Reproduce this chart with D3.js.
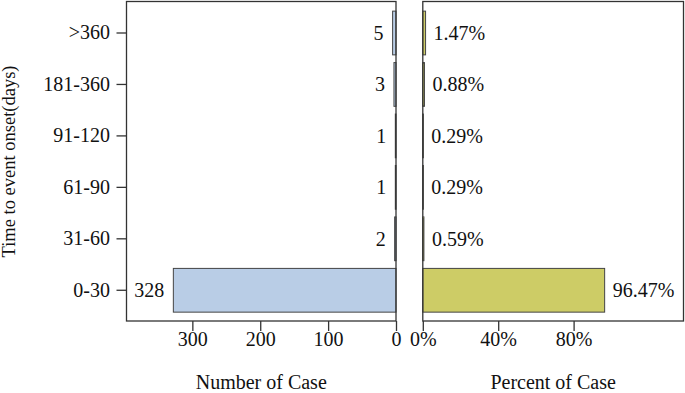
<!DOCTYPE html>
<html><head><meta charset="utf-8">
<script src="https://cdn.jsdelivr.net/npm/d3@7"></script>
<style>
body{margin:0;background:#fff;}
text{font-family:"Liberation Serif","Times New Roman",serif;fill:#111;}
</style></head>
<body><svg id="c" width="685" height="393"></svg>
<script>
const categories = ["0-30","31-60","61-90","91-120","181-360",">360"];
const caseCounts = [328, 2, 1, 1, 3, 5];
const casePercents = [96.47, 0.59, 0.29, 0.29, 0.88, 1.47];
const percentLabels = ["96.47%","0.59%","0.29%","0.29%","0.88%","1.47%"];
const countTicks = [300, 200, 100, 0];
const percentTicks = [0, 40, 80];

const svg = d3.select("#c");
const FS = 20;
const boxTop = 1.5, boxBottom = 321;

const y = d3.scaleBand().domain(categories.slice().reverse())
  .range([7.27, 316]).paddingInner(0.15).paddingOuter(0.075);

const xL = d3.scaleLinear().domain([397, 0]).range([126.5, 396]);
const xR = d3.scaleLinear().domain([0, 138.3]).range([422.8, 683.5]);

function box(x0, x1){
  svg.append("rect").attr("x", x0).attr("y", boxTop).attr("width", x1 - x0).attr("height", boxBottom - boxTop)
    .attr("fill", "none").attr("stroke", "#333").attr("stroke-width", 1.3);
}

// left bars
svg.append("g").selectAll("rect").data(categories).join("rect")
  .attr("x", (d,i) => xL(caseCounts[i]))
  .attr("width", (d,i) => xL(0) - xL(caseCounts[i]))
  .attr("y", d => y(d)).attr("height", y.bandwidth())
  .attr("fill", "#b9cde6").attr("stroke", "#444").attr("stroke-width", 1);

svg.append("g").selectAll("text").data(categories).join("text")
  .attr("x", (d,i) => xL(caseCounts[i]) - 9)
  .attr("y", d => y(d) + y.bandwidth()/2).attr("dy", "0.35em")
  .attr("text-anchor", "end").attr("font-size", FS)
  .text((d,i) => caseCounts[i]);

// right bars
svg.append("g").selectAll("rect").data(categories).join("rect")
  .attr("x", xR(0))
  .attr("width", (d,i) => xR(casePercents[i]) - xR(0))
  .attr("y", d => y(d)).attr("height", y.bandwidth())
  .attr("fill", "#cdcc66").attr("stroke", "#444").attr("stroke-width", 1);

svg.append("g").selectAll("text").data(categories).join("text")
  .attr("x", (d,i) => xR(casePercents[i]) + 8)
  .attr("y", d => y(d) + y.bandwidth()/2).attr("dy", "0.35em")
  .attr("text-anchor", "start").attr("font-size", FS)
  .text((d,i) => percentLabels[i]);

box(126.5, 396);
box(422.8, 683.5);

function styleAxis(g){
  g.select(".domain").remove();
  g.selectAll(".tick line").attr("stroke", "#333").attr("stroke-width", 1.3);
  g.selectAll(".tick text").attr("font-size", FS).attr("font-family", "Liberation Serif").attr("fill", "#111");
}
svg.append("g").attr("transform", `translate(0,${boxBottom})`)
  .call(d3.axisBottom(xL).tickValues(countTicks).tickFormat(d3.format("d")).tickSize(10).tickPadding(1))
  .call(styleAxis);
svg.append("g").attr("transform", `translate(0,${boxBottom})`)
  .call(d3.axisBottom(xR).tickValues(percentTicks).tickFormat(d => d + "%").tickSize(10).tickPadding(1))
  .call(styleAxis);
svg.append("g").attr("transform", `translate(126.5,0)`)
  .call(d3.axisLeft(y).tickSize(10).tickPadding(6.5))
  .call(styleAxis);

svg.append("text").attr("x", (126.5+396)/2).attr("y", 389).attr("text-anchor", "middle")
  .attr("font-size", FS).text("Number of Case");
svg.append("text").attr("x", (422.8+683.5)/2).attr("y", 389).attr("text-anchor", "middle")
  .attr("font-size", FS).text("Percent of Case");
svg.append("text").attr("transform", "translate(14.5,161.5) rotate(-90)").attr("text-anchor", "middle")
  .attr("font-size", 18.5).text("Time to event onset(days)");
</script></body></html>
